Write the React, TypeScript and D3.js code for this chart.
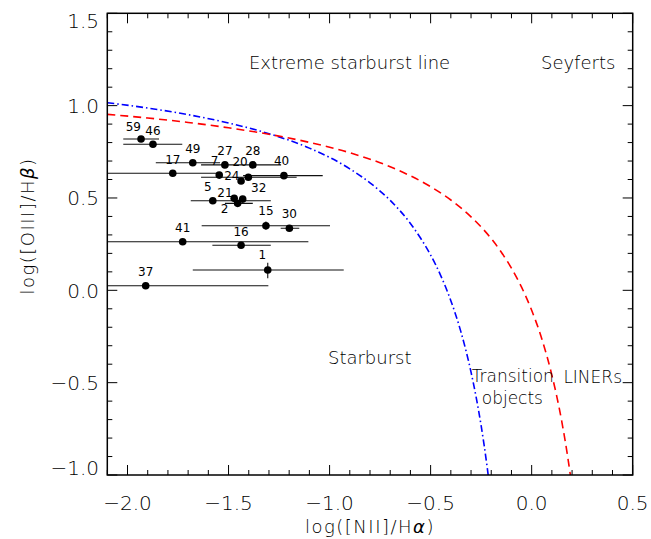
import React from 'react';
import * as d3 from 'd3';

const W = 651;
const H = 539;
const PLOT = { left: 107.3, right: 632.7, top: 13.3, bottom: 475 };

// ---- Data ----
const galaxyIds = ['59', '46', '49', '27', '28', '17', '7', '20', '24', '40', '5', '21', '32', '2', '15', '30', '41', '16', '1', '37'];
const logNII = [-1.933, -1.874, -1.677, -1.518, -1.380, -1.776, -1.546, -1.402, -1.438, -1.226, -1.578, -1.472, -1.430, -1.455, -1.315, -1.199, -1.727, -1.438, -1.306, -1.910];
const logOIII = [0.819, 0.791, 0.691, 0.679, 0.679, 0.634, 0.624, 0.612, 0.592, 0.621, 0.485, 0.498, 0.494, 0.471, 0.350, 0.336, 0.263, 0.244, 0.110, 0.025];
const niiLow = [-2.021, -2.021, -1.860, null, -1.636, -2.2, null, -1.636, null, -1.428, -1.687, null, null, -1.518, -1.633, -1.242, -2.2, -1.580, -1.677, -2.2];
const niiHigh = [-1.844, -1.729, -1.542, null, -1.240, -1.537, null, -1.163, null, -1.034, -1.291, null, null, -1.380, -0.998, -1.150, -1.105, -1.291, -0.930, -1.303];
const oiiiLow = [null, null, null, null, null, null, null, null, null, null, null, null, null, null, 0.328, null, null, null, 0.065, null];
const oiiiHigh = [null, null, null, null, null, null, null, null, null, null, null, null, null, null, 0.372, null, null, null, 0.149, null];

// Extreme starburst line (red dashed)
const kewleyX = [-2.1, -1.9, -1.7, -1.5, -1.3, -1.1, -0.9, -0.7, -0.5, -0.4, -0.3, -0.25, -0.2, -0.15, -0.1, -0.05, 0.0, 0.05, 0.1, 0.125, 0.15, 0.175, 0.19, 0.195];
const kewleyY = [0.953, 0.933, 0.909, 0.880, 0.845, 0.801, 0.745, 0.669, 0.561, 0.489, 0.398, 0.343, 0.280, 0.206, 0.120, 0.017, -0.108, -0.262, -0.459, -0.578, -0.716, -0.878, -0.989, -1.028];
// Starburst boundary (blue dash-dot)
const kauffX = [-2.1, -1.9, -1.7, -1.5, -1.3, -1.1, -0.9, -0.8, -0.7, -0.6, -0.55, -0.5, -0.45, -0.4, -0.35, -0.325, -0.3, -0.275, -0.25, -0.235, -0.22, -0.21];
const kauffY = [1.016, 0.987, 0.951, 0.906, 0.848, 0.770, 0.658, 0.582, 0.487, 0.362, 0.283, 0.191, 0.080, -0.056, -0.225, -0.327, -0.443, -0.577, -0.733, -0.840, -0.959, -1.046];

const xMajorTicks = [-2.0, -1.5, -1.0, -0.5, 0.0, 0.5];
const yMajorTicks = [-1.0, -0.5, 0.0, 0.5, 1.0, 1.5];
const xTickLabels = ['\u22122.0', '\u22121.5', '\u22121.0', '\u22120.5', '0.0', '0.5'];
const yTickLabels = ['\u22121.0', '\u22120.5', '0.0', '0.5', '1.0', '1.5'];

const regionTexts = ['Extreme starburst line', 'Seyferts', 'Starburst', 'Transition', 'objects', 'LINERs'];
const regionTextX = [-1.399, 0.046, -1.008, -0.297, -0.247, 0.157];
const regionTextY = [1.198, 1.198, -0.399, -0.497, -0.6155, -0.503];
const regionTextSize = [18, 18, 18, 17, 17, 17];

// label nudges (pixel centre offsets from marker)
const labelNudge: Record<string, [number, number]> = {
  '59': [-7.7, -12.3], '7': [-4.6, -14.3], '20': [-8.3, -15.3], '24': [-9.3, -5.3],
  '5': [-5, -13.7], '21': [-9.3, -5.6], '32': [16, -11.7], '2': [-13, 5],
  '1': [-5.4, -15], '40': [-2.3, -14.7], '15': [0, -15], '30': [0, -15],
};

const FONT = "'DejaVu Sans', 'Liberation Sans', sans-serif";

export default function App() {
  const x = d3.scaleLinear().domain([-2.1, 0.5]).range([PLOT.left, PLOT.right]);
  const y = d3.scaleLinear().domain([-1.0, 1.5]).range([PLOT.bottom, PLOT.top]);

  const xMinor = d3.range(-21, 6).map((v) => v / 10);
  const yMinor = d3.range(-10, 16).map((v) => v / 10);

  const line = d3.line<[number, number]>().x((d) => x(d[0])).y((d) => y(d[1])).curve(d3.curveMonotoneX);
  const kewleyPath = line(kewleyX.map((v, i) => [v, kewleyY[i]]) as [number, number][]) || '';
  const kauffPath = line(kauffX.map((v, i) => [v, kauffY[i]]) as [number, number][]) || '';

  const major = 10;
  const minor = 5;

  return (
    <svg width={W} height={H} style={{ position: 'absolute', left: 0, top: 0, background: '#fff' }} fontFamily={FONT} fontWeight={200}>
      <defs>
        <clipPath id="plotclip">
          <rect x={PLOT.left} y={PLOT.top} width={PLOT.right - PLOT.left} height={PLOT.bottom - PLOT.top} />
        </clipPath>
      </defs>
      <rect x={0} y={0} width={W} height={H} fill="#fff" />

      {/* curves */}
      <g clipPath="url(#plotclip)" fill="none">
        <path d={kauffPath} stroke="#0000ff" strokeWidth={1.6} strokeDasharray="7 3 1.5 3" />
        <path d={kewleyPath} stroke="#ff0000" strokeWidth={1.6} strokeDasharray="8 5" />
      </g>

      {/* error bars */}
      <g clipPath="url(#plotclip)" stroke="#111" strokeWidth={1.1}>
        {galaxyIds.map((id, i) => {
          const lo = niiLow[i];
          const hi = niiHigh[i];
          const ylo = oiiiLow[i];
          const yhi = oiiiHigh[i];
          return (
            <g key={'e' + id}>
              {lo !== null && hi !== null && (
                <line x1={x(lo)} x2={x(hi)} y1={y(logOIII[i])} y2={y(logOIII[i])} />
              )}
              {ylo !== null && yhi !== null && (
                <line x1={x(logNII[i])} x2={x(logNII[i])} y1={y(ylo)} y2={y(yhi)} />
              )}
            </g>
          );
        })}
      </g>

      {/* points */}
      <g fill="#000">
        {galaxyIds.map((id, i) => (
          <circle key={'p' + id} cx={x(logNII[i])} cy={y(logOIII[i])} r={3.8} />
        ))}
      </g>

      {/* point labels */}
      <g fontSize={12} fill="#000" textAnchor="middle" fontWeight={400}>
        {galaxyIds.map((id, i) => {
          const n = labelNudge[id] || [0, -14];
          return (
            <text key={'l' + id} x={x(logNII[i]) + n[0]} y={y(logOIII[i]) + n[1] + 4.4}>
              {id}
            </text>
          );
        })}
      </g>

      {/* region labels */}
      <g fill="#000">
        {regionTexts.map((t, i) => (
          <text key={t} x={x(regionTextX[i])} y={y(regionTextY[i])} fontSize={regionTextSize[i]}>
            {t}
          </text>
        ))}
      </g>

      {/* frame */}
      <rect x={PLOT.left} y={PLOT.top} width={PLOT.right - PLOT.left} height={PLOT.bottom - PLOT.top} fill="none" stroke="#000" strokeWidth={1.5} />

      {/* ticks */}
      <g stroke="#000" strokeWidth={1}>
        {xMinor.map((v) => {
          const isMajor = xMajorTicks.some((m) => Math.abs(m - v) < 1e-6);
          const len = isMajor ? major : minor;
          return (
            <g key={'xt' + v}>
              <line x1={x(v)} x2={x(v)} y1={PLOT.bottom} y2={PLOT.bottom - len} />
              <line x1={x(v)} x2={x(v)} y1={PLOT.top} y2={PLOT.top + len} />
            </g>
          );
        })}
        {yMinor.map((v) => {
          const isMajor = yMajorTicks.some((m) => Math.abs(m - v) < 1e-6);
          const len = isMajor ? major : minor;
          return (
            <g key={'yt' + v}>
              <line x1={PLOT.left} x2={PLOT.left + len} y1={y(v)} y2={y(v)} />
              <line x1={PLOT.right} x2={PLOT.right - len} y1={y(v)} y2={y(v)} />
            </g>
          );
        })}
      </g>

      {/* tick labels */}
      <g fontSize={20} fill="#000">
        {xMajorTicks.map((v, i) => (
          <text key={'xl' + v} x={x(v)} y={510} textAnchor="middle">
            {xTickLabels[i]}
          </text>
        ))}
        {yMajorTicks.map((v, i) => {
          const shift = i === yMajorTicks.length - 1 ? 7 : i === 0 ? -7 : 0;
          return (
            <text key={'yl' + v} x={99} y={y(v) + shift + 7.3} textAnchor="end">
              {yTickLabels[i]}
            </text>
          );
        })}
      </g>

      {/* axis titles */}
      <text x={(PLOT.left + PLOT.right) / 2} y={533} textAnchor="middle" fontSize={18} letterSpacing={1.5}>
        log([NII]/H<tspan fontStyle="italic">α</tspan>)
      </text>
      <text transform={`translate(34,226) rotate(-90)`} textAnchor="middle" fontSize={18} letterSpacing={1.5}>
        log([OIII]/H<tspan fontStyle="italic">β</tspan>)
      </text>
    </svg>
  );
}
